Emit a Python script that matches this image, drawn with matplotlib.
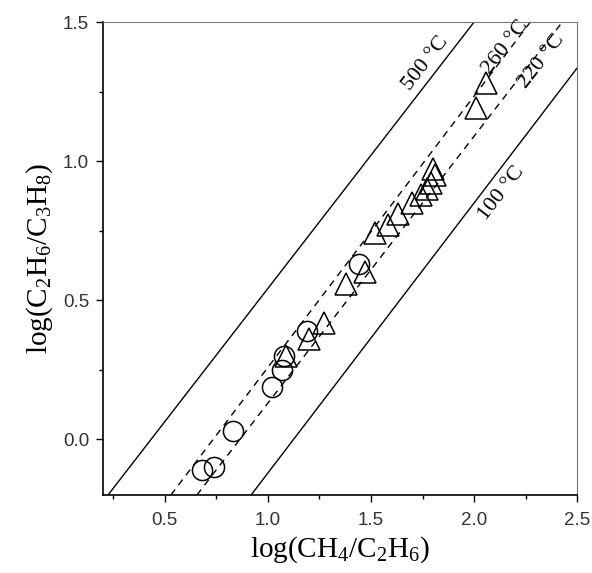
import matplotlib
matplotlib.use("Agg")
import matplotlib.pyplot as plt
import math

plt.rcParams['mathtext.default'] = 'regular'

# circle data (log CH4/C2H6, log C2H6/C3H8)
circ_x = [0.68, 0.74, 0.83, 1.02, 1.07, 1.08, 1.19, 1.44]
circ_y = [-0.11, -0.10, 0.03, 0.19, 0.25, 0.30, 0.39, 0.63]

# triangle data
tri_x = [1.09, 1.20, 1.27, 1.38, 1.47, 1.52, 1.58, 1.63, 1.70, 1.74, 1.77, 1.79, 1.80, 1.81, 2.01, 2.06]
tri_y = [0.30, 0.36, 0.42, 0.56, 0.60, 0.74, 0.77, 0.81, 0.85, 0.88, 0.90, 0.92, 0.97, 0.95, 1.19, 1.28]

# equilibrium lines: endpoints (x0, y0, x1, y1)
line_500 = (0.224, -0.2, 2.0, 1.5)
line_100 = (0.918, -0.2, 2.5, 1.335)
line_260 = (0.529, -0.2, 2.273, 1.5)
line_220 = (0.655, -0.2, 2.428, 1.5)

labels = ["500 °C", "260 °C", "220 °C", "100 °C"]
label_x = [1.763, 2.151, 2.330, 2.135]
label_y = [1.353, 1.410, 1.357, 0.884]

fig = plt.figure(figsize=(5.92, 5.73), dpi=100)
ax = fig.add_axes([0.174, 0.136, 0.801, 0.8256])

for ln in (line_500, line_100):
    ax.plot([ln[0], ln[2]], [ln[1], ln[3]], color='black', lw=1.0, solid_capstyle='butt')
for ln in (line_260, line_220):
    ax.plot([ln[0], ln[2]], [ln[1], ln[3]], color='black', lw=1.0, dashes=(5, 4))

ax.plot(tri_x, tri_y, linestyle='none', marker='^', markersize=16,
        markerfacecolor='none', markeredgecolor='black', markeredgewidth=1.1)
ax.plot(circ_x, circ_y, linestyle='none', marker='o', markersize=14.5,
        markerfacecolor='none', markeredgecolor='black', markeredgewidth=1.1)

ax.set_xticks([0.5, 1.0, 1.5, 2.0, 2.5])
ax.set_xticks([0.25, 0.75, 1.25, 1.75, 2.25], minor=True)
ax.set_yticks([0.0, 0.5, 1.0, 1.5])
ax.set_yticks([0.25, 0.75, 1.25], minor=True)
ax.xaxis.set_major_formatter(matplotlib.ticker.FormatStrFormatter('%.1f'))
ax.yaxis.set_major_formatter(matplotlib.ticker.FormatStrFormatter('%.1f'))
ax.set_xlim(0.2, 2.5)
ax.set_ylim(-0.2, 1.5)

# rotation angle of lines on screen
fig.canvas.draw()
p0 = ax.transData.transform((line_500[0], line_500[1]))
p1 = ax.transData.transform((line_500[2], line_500[3]))
ang = math.degrees(math.atan2(p1[1] - p0[1], p1[0] - p0[0]))

for t, x, y in zip(labels, label_x, label_y):
    ax.text(x, y, t, rotation=ang, ha='center', va='center',
            family='Liberation Serif', fontsize=16)

ax.tick_params(which='major', direction='out', length=5, width=1.0,
               labelsize=13.5, top=False, right=False, colors='black')
ax.tick_params(axis='x', which='major', pad=7)
ax.tick_params(axis='y', which='major', pad=5)
ax.tick_params(which='minor', direction='out', length=3, width=1.0, top=False, right=False)
for lab in ax.get_xticklabels() + ax.get_yticklabels():
    lab.set_family('Liberation Sans')
    lab.set_color('#333333')

for s in ('left', 'bottom'):
    ax.spines[s].set_linewidth(1.2)
for s in ('top', 'right'):
    ax.spines[s].set_linewidth(0.8)
    ax.spines[s].set_color('#777777')

ax.set_xlabel('log(CH$_4$/C$_2$H$_6$)', family='Liberation Serif', fontsize=21, labelpad=4)
ax.set_ylabel('log(C$_2$H$_6$/C$_3$H$_8$)', family='Liberation Serif', fontsize=21, labelpad=6)

fig.savefig('out.png', dpi=100)
